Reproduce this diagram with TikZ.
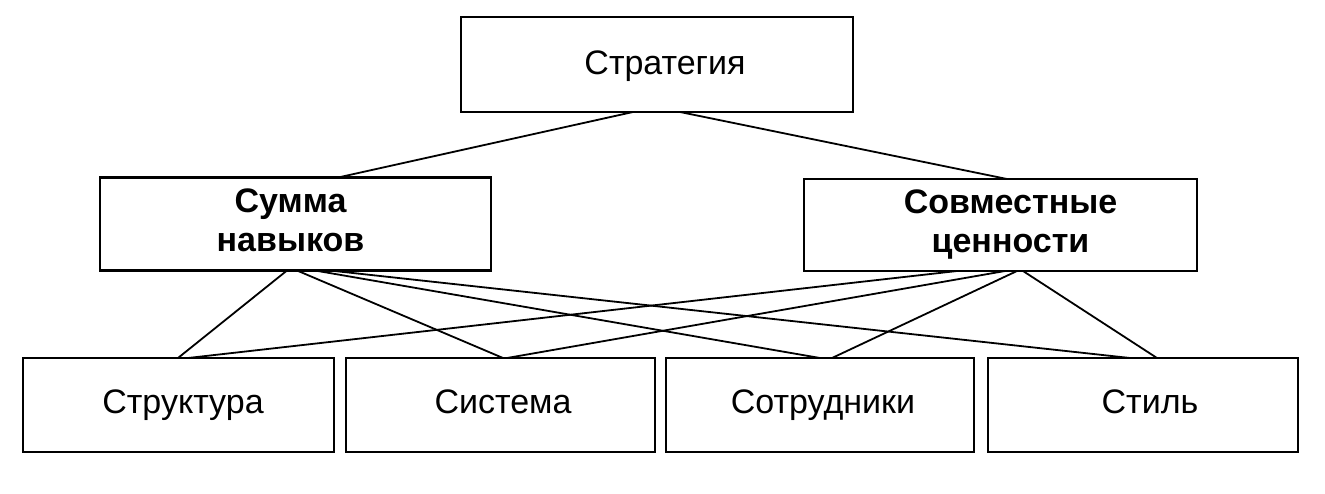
\documentclass[tikz,border=0pt]{standalone}
\usepackage{fontspec}
\setmainfont{Liberation Sans}
\usetikzlibrary{calc}
\newcommand{\topstrut}{\rule{0pt}{24pt}}
\newcommand{\botstrut}{\rule[-8pt]{0pt}{8pt}}
\begin{document}
\begin{tikzpicture}[x=1pt,y=-1pt,
  frame/.style={draw, line width=2.4pt, rectangle, inner sep=0pt, outer sep=0pt, align=center},
  box/.style={frame, text height=24pt, text depth=8pt, font=\fontsize{34}{39}\selectfont},
  bbox/.style={frame, font=\fontsize{34}{39}\selectfont\bfseries},
  link/.style={line width=1.8pt}]
\useasboundingbox (0,0) rectangle (1325,493);
\node[box, text depth=5pt, minimum width=392pt, minimum height=95pt] (strat) at (657,64.5) {\kern16pt Стратегия};
\node[bbox, minimum width=391pt, minimum height=93pt] (summa) at (295.5,224) {\topstrut Сумма\kern10pt\\навыков\kern10pt\botstrut};
\node[bbox, minimum width=393pt, minimum height=92pt] (sovm) at (1000.5,225) {\topstrut\kern20pt Совместные\\\kern20pt ценности\botstrut};
\node[box, minimum width=311pt, minimum height=94pt] (strukt) at (178.5,405) {\kern9pt Структура};
\node[box, minimum width=309pt, minimum height=94pt] (sist) at (500.5,405) {\kern5pt Система};
\node[box, minimum width=308pt, minimum height=94pt] (sotr) at (820,405) {\kern6pt Сотрудники};
\node[box, minimum width=310pt, minimum height=94pt] (stil) at (1143,405) {\kern14pt Стиль};
% from Strategy
\draw[link] ($(strat.south)+(-24,0)$) -- ($(summa.north)+(42.5,0)$);
\draw[link] ($(strat.south)+(23,0)$) -- ($(sovm.north)+(6.5,0)$);
% from Summa
\draw[link] ($(summa.south)+(-8.5,0)$) -- ($(strukt.north)+(-0.5,0)$);
\draw[link] ($(summa.south)+(1.5,0)$) -- ($(sist.north)+(2.5,0)$);
\draw[link] ($(summa.south)+(19.5,0)$) -- ($(sotr.north)+(0,0)$);
\draw[link] ($(summa.south)+(34.5,0)$) -- ($(stil.north)+(-13,0)$);
% from Sovm
\draw[link] ($(sovm.south)+(-43.5,0)$) -- ($(strukt.north)+(9.5,0)$);
\draw[link] ($(sovm.south)+(4.5,0)$) -- ($(sist.north)+(6.5,0)$);
\draw[link] ($(sovm.south)+(16.5,0)$) -- ($(sotr.north)+(12,0)$);
\draw[link] ($(sovm.south)+(22.5,0)$) -- ($(stil.north)+(14,0)$);
\end{tikzpicture}
\end{document}
